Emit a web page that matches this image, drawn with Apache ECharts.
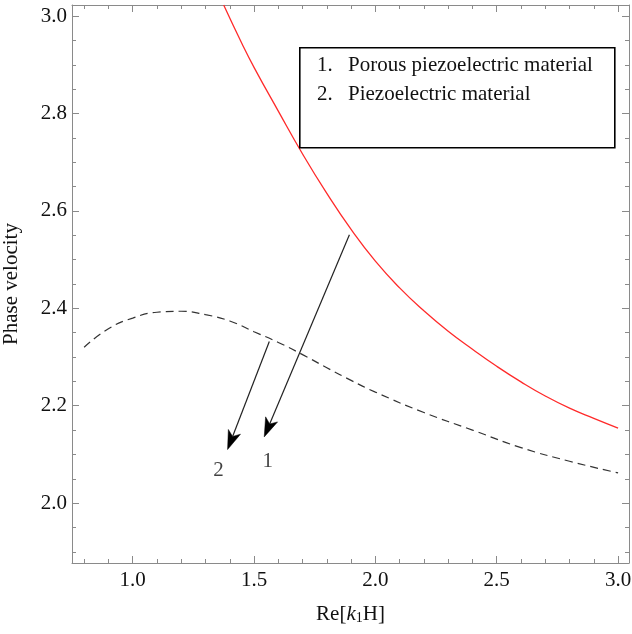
<!DOCTYPE html>
<html>
<head>
<meta charset="utf-8">
<script src="https://cdn.jsdelivr.net/npm/echarts@6/dist/echarts.min.js"></script>
<style>
html,body{margin:0;padding:0;background:#fff;}
#chart{width:632px;height:634px;}
</style>
</head>
<body>
<div id="chart"></div>
<script>
// ---- data ----
var xPorous = [1.375, 1.45, 1.5, 1.6, 1.7, 1.8, 1.9, 2.0, 2.1, 2.2, 2.3, 2.4, 2.5, 2.6, 2.7, 2.8, 2.9, 3.0];
var yPorous = [3.023, 2.944, 2.895, 2.805, 2.717, 2.636, 2.562, 2.497, 2.442, 2.395, 2.353, 2.316, 2.281, 2.249, 2.220, 2.195, 2.174, 2.154];

var xPiezo = [0.8, 0.9, 1.0, 1.1, 1.2, 1.3, 1.4, 1.5, 1.6, 1.7, 1.8, 1.9, 2.0, 2.2, 2.4, 2.6, 2.8, 3.0];
var yPiezo = [2.320, 2.358, 2.380, 2.392, 2.394, 2.387, 2.374, 2.352, 2.330, 2.305, 2.278, 2.252, 2.228, 2.186, 2.150, 2.114, 2.086, 2.062];

var legendLines = ['Porous piezoelectric material', 'Piezoelectric material'];
var legendNums = ['1.', '2.'];

var arrowStart = [[1.893, 2.551], [1.563, 2.332]];
var arrowEnd = [[1.542, 2.136], [1.391, 2.110]];
var arrowLabelText = ['1', '2'];
var arrowLabelPos = [[1.557, 2.085], [1.354, 2.068]];

var xMajor = [1.0, 1.5, 2.0, 2.5, 3.0];
var xMinor = [0.8, 0.9, 1.1, 1.2, 1.3, 1.4, 1.6, 1.7, 1.8, 1.9, 2.1, 2.2, 2.3, 2.4, 2.6, 2.7, 2.8, 2.9];
var yMajor = [2.0, 2.2, 2.4, 2.6, 2.8, 3.0];
var yMinor = [1.9, 1.95, 2.05, 2.1, 2.15, 2.25, 2.3, 2.35, 2.45, 2.5, 2.55, 2.65, 2.7, 2.75, 2.85, 2.9, 2.95];

var xMin = 0.75, xMax = 3.045, yMin = 1.877, yMax = 3.023;

// ---- build ----
var FONT = '"Liberation Serif", "DejaVu Serif", serif';
var AX = '#8a8a8a';
var FS = 21;

function pairs(xs, ys) { return xs.map(function (x, i) { return [x, ys[i]]; }); }

function mkX(pos, ticks, len, showLine, showLabel, extra) {
  var a = {
    type: 'value', position: pos, min: xMin, max: xMax,
    axisLine: { show: showLine, onZero: false, lineStyle: { color: AX, width: 1 } },
    axisTick: { show: true, inside: true, length: len, customValues: ticks, lineStyle: { color: AX, width: 1 } },
    axisLabel: { show: showLabel, customValues: ticks, margin: 7, color: '#111', fontFamily: FONT, fontSize: FS,
      formatter: function (v) { return v.toFixed(1); } },
    splitLine: { show: false }
  };
  return Object.assign(a, extra || {});
}
function mkY(pos, ticks, len, showLine, showLabel, extra) {
  var a = {
    type: 'value', position: pos, min: yMin, max: yMax,
    axisLine: { show: showLine, onZero: false, lineStyle: { color: AX, width: 1 } },
    axisTick: { show: true, inside: true, length: len, customValues: ticks, lineStyle: { color: AX, width: 1 } },
    axisLabel: { show: showLabel, customValues: ticks, margin: 5, color: '#111', fontFamily: FONT, fontSize: FS,
      formatter: function (v) { return v.toFixed(1); } },
    splitLine: { show: false }
  };
  return Object.assign(a, extra || {});
}

var arrowData = arrowStart.map(function (s, i) { return [s[0], s[1], arrowEnd[i][0], arrowEnd[i][1]]; });
var labelData = arrowLabelPos.map(function (p, i) { return { name: arrowLabelText[i], value: p }; });

var chart = echarts.init(document.getElementById('chart'), null, { renderer: 'canvas' });
var option = {
  backgroundColor: '#fff',
  animation: false,
  grid: { left: 72, right: 3, top: 5, bottom: 71, containLabel: false, outerBoundsMode: 'none' },
  xAxis: [
    mkX('bottom', xMajor, 7, true, true, {
      name: 'Re[{i|k}{s|1}H]', nameLocation: 'middle', nameGap: 40,
      nameTextStyle: { color: '#111', fontFamily: FONT, fontSize: FS,
        rich: { i: { fontStyle: 'italic', fontFamily: FONT, fontSize: FS, color: '#111' },
                s: { fontFamily: FONT, fontSize: 14, color: '#111', verticalAlign: 'bottom', padding: [8, 0, 0, 0] } } }
    }),
    mkX('bottom', xMinor, 4, false, false),
    mkX('top', xMajor, 7, true, false),
    mkX('top', xMinor, 4, false, false)
  ],
  yAxis: [
    mkY('left', yMajor, 7, true, true, {
      name: 'Phase velocity', nameLocation: 'middle', nameGap: 50, nameRotate: 90,
      nameTextStyle: { color: '#111', fontFamily: FONT, fontSize: FS }
    }),
    mkY('left', yMinor, 4, false, false),
    mkY('right', yMajor, 7, true, false),
    mkY('right', yMinor, 4, false, false)
  ],
  series: [
    {
      type: 'line', name: 'Porous piezoelectric material', xAxisIndex: 0, yAxisIndex: 0,
      data: pairs(xPorous, yPorous), smooth: 0.5, showSymbol: false, symbol: 'none',
      lineStyle: { color: '#ff2a2a', width: 1.3 }, clip: true
    },
    {
      type: 'line', name: 'Piezoelectric material', xAxisIndex: 0, yAxisIndex: 0,
      data: pairs(xPiezo, yPiezo), smooth: 0.5, showSymbol: false, symbol: 'none',
      lineStyle: { color: '#333', width: 1.2, type: [8, 5] }, clip: true
    },
    {
      type: 'custom', xAxisIndex: 0, yAxisIndex: 0, data: arrowData,
      encode: { x: [0, 2], y: [1, 3] },
      renderItem: function (params, api) {
        var p1 = api.coord([api.value(0), api.value(1)]);
        var p2 = api.coord([api.value(2), api.value(3)]);
        var dx = p2[0] - p1[0], dy = p2[1] - p1[1];
        var L = Math.sqrt(dx * dx + dy * dy);
        var ux = dx / L, uy = dy / L, nx = -uy, ny = ux;
        var HL = 19, HW = 6.5, NOTCH = 14;
        var b1 = [p2[0] - HL * ux + HW * nx, p2[1] - HL * uy + HW * ny];
        var b2 = [p2[0] - HL * ux - HW * nx, p2[1] - HL * uy - HW * ny];
        var nb = [p2[0] - NOTCH * ux, p2[1] - NOTCH * uy];
        return {
          type: 'group',
          children: [
            { type: 'line', shape: { x1: p1[0], y1: p1[1], x2: nb[0], y2: nb[1] },
              style: { stroke: '#222', lineWidth: 1.2 } },
            { type: 'polygon', shape: { points: [p2, b1, nb, b2] },
              style: { fill: '#000', stroke: '#000', lineWidth: 0.5 } }
          ]
        };
      }
    },
    {
      type: 'scatter', xAxisIndex: 0, yAxisIndex: 0, data: labelData,
      symbolSize: 0, silent: true,
      label: { show: true, position: 'inside', formatter: '{b}', color: '#111', fontFamily: FONT, fontSize: FS }
    }
  ],
  graphic: [
    { type: 'rect', left: 299, top: 47, shape: { width: 315, height: 100 },
      style: { fill: '#fff', stroke: '#000', lineWidth: 1.6 }, z: 10 },
    { type: 'text', left: 317, top: 55, style: { text: legendNums[0], font: FS + 'px ' + FONT, fill: '#111' }, z: 11 },
    { type: 'text', left: 348, top: 55, style: { text: legendLines[0], font: FS + 'px ' + FONT, fill: '#111' }, z: 11 },
    { type: 'text', left: 317, top: 84, style: { text: legendNums[1], font: FS + 'px ' + FONT, fill: '#111' }, z: 11 },
    { type: 'text', left: 348, top: 84, style: { text: legendLines[1], font: FS + 'px ' + FONT, fill: '#111' }, z: 11 }
  ]
};
chart.setOption(option);
</script>
</body>
</html>
